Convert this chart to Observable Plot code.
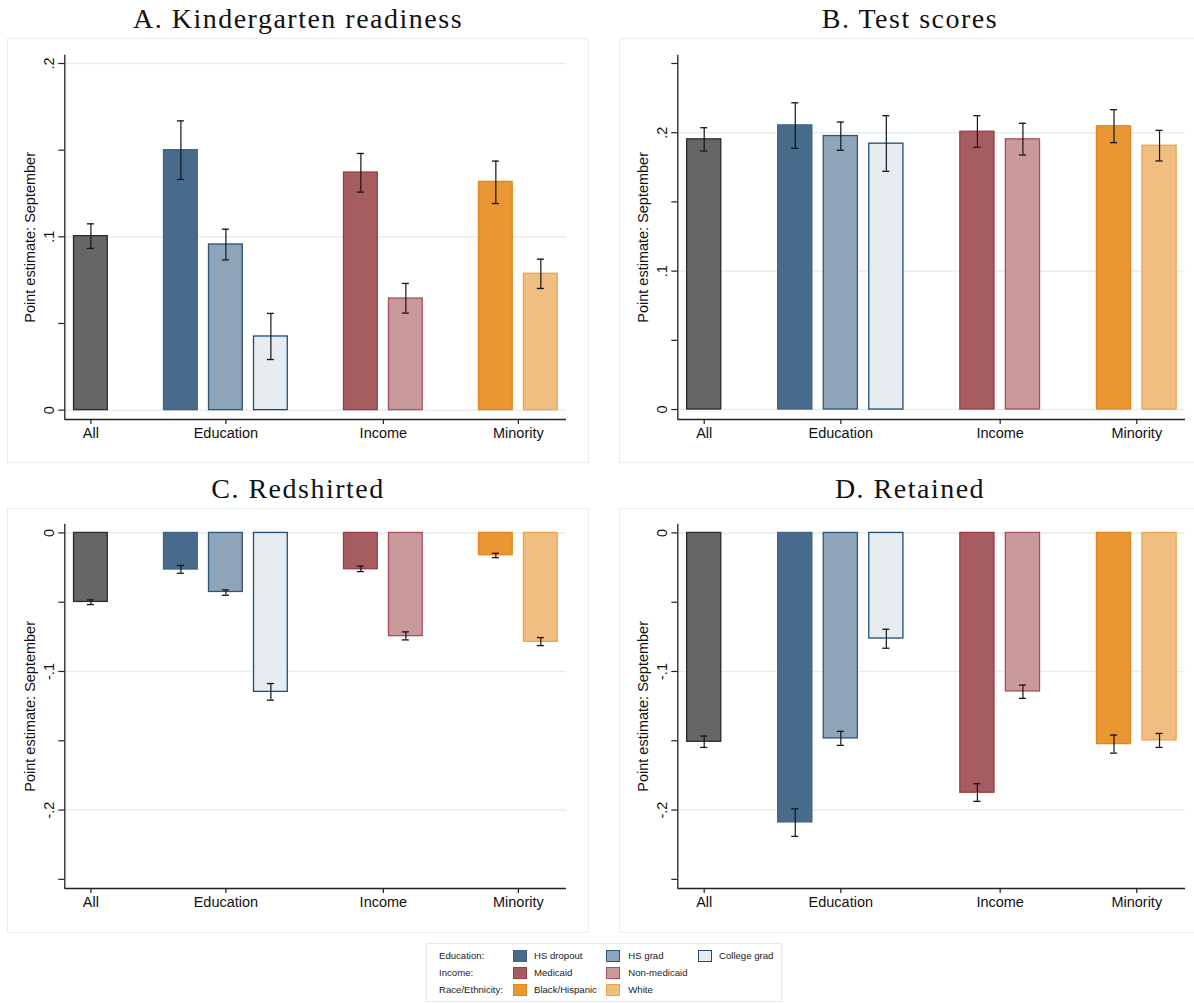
<!DOCTYPE html>
<html><head><meta charset="utf-8">
<script src="https://cdn.jsdelivr.net/npm/d3@7"></script>
<script src="https://cdn.jsdelivr.net/npm/@observablehq/plot@0.6"></script>
<style>
html,body{margin:0;padding:0;background:#fff;overflow:hidden;}
#root{position:relative;width:1194px;height:1003px;overflow:hidden;background:#fff;font-family:"Liberation Sans",Arial,Helvetica,sans-serif;}
.panel{position:absolute;outline:1.5px solid #e8eff0;background:#fff;}
.panel svg{display:block;overflow:visible;}
.ptitle{position:absolute;width:580px;height:28px;line-height:28px;font-family:"Liberation Serif","Times New Roman",serif;font-size:28px;letter-spacing:1.5px;text-align:center;white-space:nowrap;color:#111;}
.legend{position:absolute;left:427px;top:944px;width:354px;height:57px;outline:1px solid #e4ecec;background:#fff;}
.lg-text{position:absolute;font-size:9.6px;line-height:12px;height:12px;color:#222;white-space:nowrap;}
.lg-sw{position:absolute;width:14px;height:12.4px;box-sizing:border-box;border:1.4px solid;}
</style></head>
<body><div id="root"></div>
<script>
// ---- Data ----
const groups = ["All", "Education", "Income", "Minority"];
const legendGroupLabels = ["Education:", "Income:", "Race/Ethnicity:"];
const subgroups = ["All", "HS dropout", "HS grad", "College grad", "Medicaid", "Non-medicaid", "Black/Hispanic", "White"];
const subgroupGroup = ["All", "Education", "Education", "Education", "Income", "Income", "Minority", "Minority"];

const panelTitles = ["A. Kindergarten readiness", "B. Test scores", "C. Redshirted", "D. Retained"];
const yTitle = "Point estimate: September";

const readiness   = [0.1004, 0.1500, 0.0956, 0.0425, 0.1371, 0.0644, 0.1317, 0.0787];
const readinessLo = [0.0933, 0.1331, 0.0867, 0.0292, 0.1258, 0.0560, 0.1192, 0.0702];
const readinessHi = [0.1075, 0.1669, 0.1044, 0.0558, 0.1481, 0.0731, 0.1437, 0.0871];

const tests   = [0.1952, 0.2053, 0.1976, 0.1921, 0.2007, 0.1952, 0.2046, 0.1906];
const testsLo = [0.1868, 0.1887, 0.1873, 0.1721, 0.1895, 0.1839, 0.1928, 0.1796];
const testsHi = [0.2036, 0.2216, 0.2077, 0.2123, 0.2123, 0.2068, 0.2166, 0.2017];

const redshirt   = [-0.0498, -0.0264, -0.0426, -0.1147, -0.0262, -0.0745, -0.0161, -0.0786];
const redshirtLo = [-0.0517, -0.0291, -0.0450, -0.1207, -0.0279, -0.0772, -0.0178, -0.0813];
const redshirtHi = [-0.0483, -0.0235, -0.0411, -0.1087, -0.0240, -0.0714, -0.0147, -0.0755];

const retained   = [-0.1507, -0.2089, -0.1483, -0.0762, -0.1875, -0.1144, -0.1524, -0.1497];
const retainedLo = [-0.1548, -0.2190, -0.1533, -0.0832, -0.1937, -0.1194, -0.1589, -0.1548];
const retainedHi = [-0.1466, -0.1991, -0.1432, -0.0695, -0.1810, -0.1098, -0.1459, -0.1447];

const ticksPos = [0, 0.1, 0.2];
const ticksPosMinor = [0.05, 0.15];
const ticksPosMinorB = [0.05, 0.15, 0.25];
const ticksNeg = [0, -0.1, -0.2];
const ticksNegMinor = [-0.05, -0.15, -0.25];

// ---- Styles ----
const fills   = ["#666666", "#486b8c", "#8ea4b8", "#e7ecf0", "#a65d61", "#c9999c", "#ea9632", "#f0be80"];
const strokes = ["#2a2a2a", "#3f6387", "#2f557a", "#1f4b76", "#9c3a43", "#a5505a", "#e0871c", "#eca44a"];
const FONT = '"Liberation Sans", Arial, Helvetica, sans-serif';

// slot layout: consecutive within a group, one empty slot between groups
const slots = [];
{
  let s = 0;
  subgroupGroup.forEach((g, i) => {
    if (i > 0) s += (g === subgroupGroup[i - 1]) ? 1 : 2;
    slots.push(s);
  });
}
const groupCenters = groups.map(g => d3.mean(slots.filter((_, i) => subgroupGroup[i] === g)));
const groupByCenter = new Map(groupCenters.map((c, i) => [c, groups[i]]));
const xDomain = [-0.58, 10.57];
const barW = 0.75;
const capW = 0.078;

const fmt = d => d === 0 ? "0" : String(+d.toFixed(2)).replace("0.", ".");

const panels = [
  {title: panelTitles[0], v: readiness, lo: readinessLo, hi: readinessHi, left: 8, top: 39.3, ml: 56.3, mr: 22, mt: 15.7, mb: 42.4, y: [-0.0054, 0.2048], major: ticksPos, minor: ticksPosMinor},
  {title: panelTitles[1], v: tests, lo: testsLo, hi: testsHi, left: 620, top: 39.3, ml: 57.3, mr: 15, mt: 15.7, mb: 42.4, y: [-0.0072, 0.256], major: ticksPos, minor: ticksPosMinorB},
  {title: panelTitles[2], v: redshirt, lo: redshirtLo, hi: redshirtHi, left: 8, top: 509.3, ml: 56.3, mr: 22, mt: 14.7, mb: 43.4, y: [-0.2566, 0.0063], major: ticksNeg, minor: ticksNegMinor},
  {title: panelTitles[3], v: retained, lo: retainedLo, hi: retainedHi, left: 620, top: 509.3, ml: 57.3, mr: 15, mt: 14.7, mb: 43.4, y: [-0.2566, 0.0063], major: ticksNeg, minor: ticksNegMinor}
];

const root = document.getElementById("root");
const PW = 580, PH = 422.4;

panels.forEach(p => {
  const data = subgroups.map((s, i) => ({sub: s, slot: slots[i], v: p.v[i], lo: p.lo[i], hi: p.hi[i], fill: fills[i], stroke: strokes[i]}));
  const t = document.createElement("div");
  t.className = "ptitle";
  t.style.left = p.left + "px";
  t.style.top = (p.top - 34.7) + "px";
  t.textContent = p.title;
  root.appendChild(t);

  const box = document.createElement("div");
  box.className = "panel";
  box.style.left = p.left + "px";
  box.style.top = p.top + "px";
  box.style.width = PW + "px";
  box.style.height = PH + "px";

  const chart = Plot.plot({
    width: PW, height: PH,
    marginLeft: p.ml, marginRight: p.mr, marginTop: p.mt, marginBottom: p.mb,
    style: {fontFamily: FONT, fontSize: "14.5px", background: "transparent", color: "#111"},
    x: {type: "linear", domain: xDomain, axis: null},
    y: {domain: p.y, axis: null},
    color: {type: "identity"},
    marks: [
      Plot.gridY(p.major, {stroke: "#e6eef0", strokeOpacity: 1, strokeWidth: 1.5}),
      Plot.rectY(data, {x1: d => d.slot - barW / 2, x2: d => d.slot + barW / 2, y1: 0, y2: "v", fill: "fill", stroke: "stroke", strokeWidth: 1.3}),
      Plot.ruleX(data, {x: "slot", y1: "lo", y2: "hi", stroke: "#151515", strokeWidth: 1.2}),
      Plot.ruleY(data, {y: "lo", x1: d => d.slot - capW, x2: d => d.slot + capW, stroke: "#151515", strokeWidth: 1.3}),
      Plot.ruleY(data, {y: "hi", x1: d => d.slot - capW, x2: d => d.slot + capW, stroke: "#151515", strokeWidth: 1.3}),
      Plot.axisY(p.minor, {tickFormat: () => "", tickSize: 6, stroke: "#222", strokeWidth: 1.2, label: null}),
      Plot.axisY(p.major, {tickFormat: fmt, tickRotate: -90, tickSize: 6, tickPadding: 5, fontSize: 14.5, stroke: "#222", strokeWidth: 1.2, label: null}),
      Plot.axisX(groupCenters, {tickFormat: d => groupByCenter.get(d), tickSize: 5, tickPadding: 3.5, fontSize: 14.5, stroke: "#222", strokeWidth: 1.2, label: null}),
      Plot.ruleX([xDomain[0]], {stroke: "#222", strokeWidth: 1.3}),
      Plot.ruleY([p.y[0]], {stroke: "#222", strokeWidth: 1.3}),
      Plot.text([yTitle], {frameAnchor: "left", textAnchor: "middle", dx: -34.5, rotate: -90, fontSize: 14.5, fill: "#111"})
    ]
  });
  box.appendChild(chart);
  root.appendChild(box);
});

// ---- Legend ----
const legend = document.createElement("div");
legend.className = "legend";
root.appendChild(legend);
const rowY = [11.7, 29, 46];
const swX = [85.7, 179, 270.7];
const lbX = [107, 201.3, 292];
const legendGroups = groups.slice(1);
legendGroups.forEach((g, r) => {
  const gl = document.createElement("div");
  gl.className = "lg-text";
  gl.style.left = "12px";
  gl.style.top = (rowY[r] - 6) + "px";
  gl.textContent = legendGroupLabels[r];
  legend.appendChild(gl);
  const members = subgroups.map((s, i) => i).filter(i => subgroupGroup[i] === g);
  members.forEach((i, j) => {
    const sw = document.createElement("div");
    sw.className = "lg-sw";
    sw.style.left = swX[j] + "px";
    sw.style.top = (rowY[r] - 6.2) + "px";
    sw.style.background = fills[i];
    sw.style.borderColor = strokes[i];
    legend.appendChild(sw);
    const lb = document.createElement("div");
    lb.className = "lg-text";
    lb.style.left = lbX[j] + "px";
    lb.style.top = (rowY[r] - 6) + "px";
    lb.textContent = subgroups[i];
    legend.appendChild(lb);
  });
});
</script>
</body></html>
